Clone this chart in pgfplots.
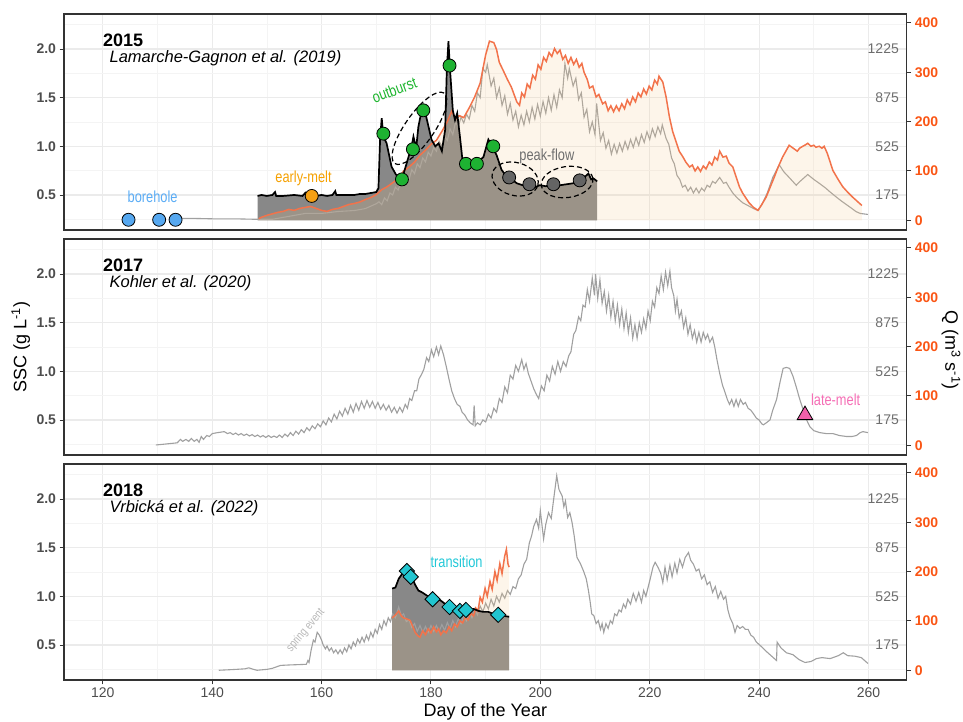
\documentclass[border=0pt]{standalone}
\usepackage{fontspec}
\setmainfont{Liberation Sans}
\newfontfamily\condfont[FakeStretch=0.8]{Liberation Sans}
\usepackage{pgfplots}
\usepackage{pgfplotstable}
\pgfplotsset{compat=1.18}
\usetikzlibrary{shapes.geometric}

\definecolor{frame}{RGB}{51,51,51}
\definecolor{gridmaj}{RGB}{235,235,235}
\definecolor{gridmin}{RGB}{244,244,244}
\definecolor{ticklab}{RGB}{77,77,77}
\definecolor{graylab}{RGB}{110,110,110}
\definecolor{qtick}{RGB}{250,85,20}
\definecolor{orangeL}{RGB}{242,115,75}
\definecolor{grayL}{RGB}{160,160,160}
\definecolor{darkfill}{RGB}{136,136,136}
\definecolor{beige}{RGB}{244,199,138}
\definecolor{blueM}{RGB}{86,168,240}
\definecolor{orangeM}{RGB}{245,160,20}
\definecolor{greenM}{RGB}{30,178,50}
\definecolor{grayM}{RGB}{100,100,100}
\definecolor{pinkM}{RGB}{240,96,170}
\definecolor{cyanM}{RGB}{34,197,208}
\definecolor{blueT}{RGB}{90,172,245}
\definecolor{orangeT}{RGB}{245,160,0}
\definecolor{greenT}{RGB}{29,181,46}
\definecolor{grayT}{RGB}{110,110,110}
\definecolor{cyanT}{RGB}{34,200,216}
\definecolor{pinkT}{RGB}{245,110,181}
\definecolor{springT}{RGB}{184,184,184}

% ---------------- 2015 ----------------
\pgfplotstableread[row sep=\\]{
d s\\
148.3 0.24\\ 148.3 0.49\\ 149 0.50\\ 150 0.49\\ 151 0.50\\ 151.5 0.53\\ 151.7 0.49\\ 153 0.49\\
155 0.50\\ 156.5 0.49\\ 157 0.52\\ 157.2 0.49\\ 159 0.49\\ 160 0.50\\ 161 0.49\\ 162 0.50\\
162.5 0.54\\ 162.7 0.50\\ 164 0.50\\ 166 0.50\\ 167 0.51\\ 168 0.51\\ 169 0.52\\ 170 0.53\\
170.4 0.57\\ 170.7 1.07\\ 171.0 1.29\\ 171.3 1.10\\ 171.9 1.03\\ 172.8 0.79\\ 173.6 0.71\\
174.4 0.67\\ 175.0 0.72\\ 175.9 0.89\\ 176.5 1.01\\ 176.8 1.10\\ 177.3 0.98\\ 177.7 1.20\\
178.3 1.37\\ 178.9 1.36\\ 179.4 1.24\\ 180.1 1.07\\ 180.8 1.00\\ 181.4 1.03\\ 182.0 0.95\\
182.6 1.17\\ 182.9 1.78\\ 183.2 2.08\\ 183.5 1.78\\ 184.0 1.37\\ 184.4 1.27\\ 184.8 1.34\\
185.3 1.10\\ 185.8 0.84\\ 187.1 0.81\\ 188.4 0.83\\ 189.6 0.89\\ 190.5 1.07\\ 191.1 1.01\\
192.0 0.91\\ 192.9 0.76\\ 193.8 0.69\\ 194.8 0.66\\ 195.7 0.62\\ 196.8 0.60\\ 197.8 0.59\\
199.0 0.58\\ 199.9 0.60\\ 201.0 0.59\\ 201.8 0.60\\ 202.7 0.60\\ 203.6 0.60\\ 204.8 0.61\\
206.0 0.62\\ 207.2 0.65\\ 208.0 0.68\\ 208.8 0.72\\ 209.3 0.66\\ 209.7 0.67\\ 210.4 0.64\\
210.4 0.24\\
}\sscA

\pgfplotstableread[row sep=\\]{
d q\\
148.3 0\\ 148.5 3\\ 149 6\\ 150 10\\ 151 13\\ 152 16\\ 153 18\\ 154 22\\ 155 20\\ 156 24\\
157 26\\ 158 28\\ 159 24\\ 160 20\\ 161 18\\ 162 22\\ 163 24\\ 164 28\\ 165 32\\ 166 34\\
167 37\\ 168 42\\ 169 46\\ 170 52\\ 171 62\\ 172 68\\ 173 76\\ 174 84\\ 175 100\\ 176 108\\
177 118\\ 178 132\\ 179 142\\ 180 154\\ 181 162\\ 182 180\\ 183 200\\ 183.8 221\\ 184.5 205\\
185.2 212\\ 186 208\\ 187 228\\ 188 250\\ 189 278\\ 190 335\\ 190.7 363\\ 191.5 360\\ 192 346\\
192.5 320\\ 193.2 304\\ 194 285\\ 194.7 270\\ 195.2 255\\ 195.7 240\\ 196.2 233\\ 196.6 258\\
197.1 250\\ 197.6 276\\ 198.1 268\\ 198.6 294\\ 199.1 286\\ 199.6 315\\ 200.1 306\\ 200.6 330\\
201.1 322\\ 201.6 340\\ 202.1 332\\ 202.6 348\\ 203.1 338\\ 203.6 345\\ 204.1 326\\ 204.6 334\\
205.1 318\\ 205.6 330\\ 206.1 316\\ 206.6 326\\ 207.1 310\\ 207.6 318\\ 208 300\\ 208.6 285\\
209 268\\ 209.6 272\\ 210.2 250\\ 210.7 255\\ 211.4 236\\ 211.9 240\\ 212.4 222\\ 212.9 232\\
213.4 220\\ 213.9 232\\ 214.4 222\\ 214.9 236\\ 215.4 226\\ 215.9 244\\ 216.4 234\\ 216.9 250\\
217.4 240\\ 217.9 258\\ 218.4 250\\ 218.9 266\\ 219.4 256\\ 219.9 272\\ 220.4 264\\ 220.9 284\\
221.4 276\\ 221.7 292\\ 222.4 280\\ 223 250\\ 223.6 210\\ 224.2 180\\ 224.8 160\\ 225.4 140\\
226.1 128\\ 226.6 118\\ 227.3 108\\ 227.8 112\\ 228.3 100\\ 228.8 108\\ 229.3 99\\ 229.8 110\\
230.3 104\\ 230.9 118\\ 231.4 112\\ 231.9 128\\ 232.4 122\\ 232.8 140\\ 233.4 128\\ 234 130\\
234.5 116\\ 235.2 108\\ 235.8 88\\ 236.4 68\\ 237 55\\ 237.6 45\\ 238.2 35\\ 239 26\\ 239.8 20\\
240.5 32\\ 241.3 47\\ 242 66\\ 242.8 88\\ 243.5 108\\ 244.3 128\\ 245 142\\ 245.5 152\\ 246 148\\
246.5 144\\ 247 140\\ 247.4 146\\ 248 150\\ 248.5 153\\ 248.9 156\\ 249.5 150\\ 250 152\\
250.4 148\\ 251 150\\ 251.5 146\\ 251.9 150\\ 252.5 135\\ 253.5 101\\ 254.5 82\\ 255.3 68\\
256.2 57\\ 257.1 47\\ 258 38\\ 258.8 30\\ 258.8 0\\
}\qA

\pgfplotstableread[row sep=\\]{
d s\\
133.5 0.26\\ 136 0.26\\ 140 0.255\\ 144 0.255\\ 148 0.25\\ 151 0.25\\ 154 0.28\\ 157 0.31\\
160 0.31\\ 163 0.33\\ 166 0.34\\ 168 0.36\\ 170 0.41\\ 170.5 0.43\\ 171 0.40\\ 171.5 0.47\\
172 0.44\\ 172.5 0.52\\ 173 0.50\\ 173.5 0.58\\ 174 0.55\\ 174.5 0.63\\ 175 0.60\\ 175.5 0.70\\
176 0.66\\ 176.5 0.76\\ 177 0.72\\ 177.5 0.82\\ 178 0.78\\ 178.5 0.88\\ 179 0.84\\ 179.5 0.94\\
180 0.90\\ 180.5 0.99\\ 181 0.95\\ 181.5 1.05\\ 182 1.00\\ 182.5 1.10\\ 183 1.06\\ 183.5 1.18\\
184 1.12\\ 184.5 1.25\\ 185 1.20\\ 185.5 1.30\\ 186 1.24\\ 186.5 1.33\\ 187 1.28\\ 187.5 1.42\\
188 1.36\\ 188.5 1.55\\ 189 1.50\\ 189.5 1.80\\ 190 1.76\\ 190.3 1.84\\ 191 1.62\\ 191.5 1.70\\
192 1.50\\ 192.5 1.60\\ 193 1.42\\ 193.5 1.52\\ 194 1.33\\ 194.5 1.44\\ 195 1.27\\ 195.5 1.36\\
196 1.20\\ 196.5 1.32\\ 197 1.22\\ 197.5 1.36\\ 198 1.25\\ 198.5 1.40\\ 199 1.28\\ 199.5 1.43\\
200 1.31\\ 200.5 1.46\\ 201 1.34\\ 201.5 1.50\\ 202 1.37\\ 202.5 1.53\\ 203 1.40\\ 203.5 1.58\\
204 1.50\\ 204.5 1.85\\ 205 1.70\\ 205.3 1.80\\ 206 1.62\\ 206.5 1.70\\ 207 1.48\\ 207.5 1.55\\
208 1.30\\ 208.5 1.38\\ 209 1.15\\ 209.5 1.25\\ 210 1.12\\ 210.3 1.44\\ 211 1.06\\ 211.5 1.14\\
212 0.98\\ 212.5 1.06\\ 213 0.92\\ 213.5 1.02\\ 214 0.93\\ 214.5 1.03\\ 215 0.95\\ 215.5 1.05\\
216 0.97\\ 216.5 1.07\\ 217 0.99\\ 217.5 1.09\\ 218 1.01\\ 218.5 1.12\\ 219 1.04\\ 219.5 1.15\\
220 1.07\\ 220.5 1.18\\ 221 1.10\\ 221.5 1.20\\ 222 1.13\\ 222.3 1.22\\ 223 1.08\\ 223.5 1.02\\
224 0.88\\ 224.5 0.82\\ 225 0.70\\ 225.5 0.66\\ 226 0.58\\ 226.5 0.60\\ 227 0.54\\ 227.5 0.58\\
228 0.52\\ 228.5 0.57\\ 229 0.52\\ 229.5 0.57\\ 230 0.54\\ 230.5 0.60\\ 231 0.58\\ 231.5 0.64\\
232 0.62\\ 232.8 0.68\\ 233.5 0.62\\ 234 0.63\\ 234.5 0.58\\ 235.2 0.52\\ 236 0.47\\ 237 0.42\\
238 0.39\\ 239 0.36\\ 239.8 0.34\\ 240.5 0.40\\ 241.5 0.52\\ 242.5 0.68\\ 243.7 0.81\\ 244.5 0.74\\
245.5 0.68\\ 246.8 0.60\\ 247.5 0.64\\ 248.9 0.71\\ 250 0.66\\ 251 0.62\\ 252.2 0.57\\ 253 0.53\\
254.1 0.48\\ 255 0.44\\ 256 0.40\\ 257 0.36\\ 257.7 0.33\\ 258.5 0.31\\ 259.9 0.30\\
}\grayA

% ---------------- 2017 ----------------
\pgfplotstableread[row sep=\\]{
d s\\
129.7 0.243\\ 131 0.25\\ 133.6 0.265\\ 134.2 0.30\\ 134.6 0.28\\ 135.2 0.30\\ 135.7 0.28\\
136.2 0.31\\ 136.7 0.28\\ 137.2 0.30\\ 137.6 0.27\\ 138.0 0.33\\ 138.4 0.30\\ 139.0 0.34\\
139.5 0.33\\ 140.0 0.36\\ 141.0 0.37\\ 142.2 0.38\\ 142.8 0.36\\ 143.3 0.37\\ 143.8 0.35\\
144.3 0.365\\ 144.8 0.345\\ 145.3 0.36\\ 145.8 0.34\\ 146.3 0.355\\ 146.8 0.335\\ 147.3 0.35\\
147.8 0.33\\ 148.3 0.345\\ 148.8 0.325\\ 149.3 0.34\\ 149.8 0.32\\ 150.3 0.34\\ 150.8 0.32\\
151.3 0.335\\ 151.8 0.32\\ 152.3 0.345\\ 152.8 0.32\\ 153.3 0.355\\ 153.8 0.33\\ 154.3 0.37\\
154.8 0.34\\ 155.3 0.385\\ 155.8 0.355\\ 156.3 0.40\\ 156.8 0.37\\ 157.3 0.42\\ 157.8 0.39\\
158.3 0.44\\ 158.8 0.41\\ 159.3 0.46\\ 159.8 0.43\\ 160.3 0.49\\ 160.8 0.45\\ 161.3 0.52\\
161.8 0.48\\ 162.3 0.56\\ 162.8 0.51\\ 163.3 0.59\\ 163.8 0.54\\ 164.3 0.62\\ 164.8 0.56\\
165.3 0.65\\ 165.8 0.58\\ 166.3 0.67\\ 166.8 0.60\\ 167.3 0.69\\ 167.8 0.62\\ 168.3 0.70\\
168.8 0.63\\ 169.3 0.69\\ 169.8 0.62\\ 170.3 0.68\\ 170.8 0.61\\ 171.3 0.66\\ 171.8 0.60\\
172.3 0.65\\ 172.8 0.58\\ 173.3 0.63\\ 173.8 0.57\\ 174.3 0.63\\ 174.8 0.58\\ 175.3 0.66\\
175.7 0.62\\ 176.1 0.72\\ 176.5 0.70\\ 177.0 0.80\\ 177.4 0.80\\ 177.8 0.92\\ 178.3 0.97\\
178.7 1.02\\ 179.2 1.14\\ 179.6 1.10\\ 180.1 1.22\\ 180.5 1.15\\ 181.0 1.25\\ 181.4 1.17\\
181.8 1.26\\ 182.3 1.17\\ 182.8 1.05\\ 183.3 0.92\\ 183.8 0.80\\ 184.3 0.72\\ 184.8 0.66\\
185.3 0.64\\ 185.7 0.58\\ 186.2 0.55\\ 186.7 0.50\\ 187.2 0.47\\ 187.7 0.45\\ 187.9 0.65\\
188.1 0.44\\ 188.5 0.47\\ 189.0 0.45\\ 189.5 0.50\\ 190.0 0.48\\ 190.5 0.56\\ 191.0 0.52\\
191.5 0.62\\ 192.0 0.58\\ 192.5 0.72\\ 193.0 0.68\\ 193.5 0.84\\ 194.0 0.78\\ 194.5 0.96\\
195.0 0.92\\ 195.5 1.06\\ 196.0 1.00\\ 196.6 1.12\\ 197.0 1.02\\ 197.4 1.08\\ 197.8 0.98\\
198.3 0.90\\ 198.8 0.82\\ 199.3 0.76\\ 199.7 0.72\\ 200.2 0.85\\ 200.7 0.80\\ 201.2 0.96\\
201.7 0.90\\ 202.2 1.05\\ 202.7 0.97\\ 203.2 1.10\\ 203.7 1.00\\ 204.2 1.10\\ 204.7 1.05\\
205.2 1.16\\ 205.6 1.20\\ 206.1 1.38\\ 206.5 1.42\\ 207.0 1.56\\ 207.4 1.52\\ 207.8 1.68\\
208.2 1.66\\ 208.6 1.84\\ 209.0 1.72\\ 209.5 1.96\\ 209.9 1.78\\ 210.1 2.00\\ 210.5 1.75\\
210.9 1.94\\ 211.3 1.70\\ 211.7 1.82\\ 212.1 1.62\\ 212.5 1.78\\ 212.9 1.56\\ 213.3 1.72\\
213.7 1.52\\ 214.1 1.68\\ 214.5 1.48\\ 214.9 1.64\\ 215.3 1.44\\ 215.7 1.60\\ 216.1 1.40\\
216.5 1.55\\ 216.9 1.34\\ 217.3 1.48\\ 217.7 1.34\\ 218.1 1.50\\ 218.5 1.40\\ 218.9 1.54\\
219.3 1.44\\ 219.7 1.62\\ 220.1 1.52\\ 220.5 1.72\\ 220.9 1.66\\ 221.3 1.86\\ 221.7 1.80\\
222.1 1.98\\ 222.5 1.84\\ 222.9 2.02\\ 223.3 1.88\\ 223.7 2.03\\ 224.0 1.86\\ 224.4 1.78\\
224.7 1.62\\ 225.0 1.74\\ 225.4 1.55\\ 225.8 1.62\\ 226.2 1.45\\ 226.6 1.55\\ 227.0 1.38\\
227.4 1.48\\ 227.8 1.34\\ 228.2 1.42\\ 228.6 1.30\\ 229.0 1.40\\ 229.4 1.30\\ 229.8 1.40\\
230.2 1.33\\ 230.6 1.38\\ 231.0 1.30\\ 231.5 1.35\\ 231.9 1.25\\ 232.3 1.12\\ 232.8 0.98\\
233.3 0.86\\ 233.8 0.78\\ 234.2 0.71\\ 234.6 0.66\\ 235.0 0.71\\ 235.4 0.64\\ 235.8 0.71\\
236.2 0.64\\ 236.6 0.71\\ 237.1 0.66\\ 237.5 0.68\\ 238.0 0.62\\ 238.5 0.60\\ 238.9 0.57\\
239.5 0.52\\ 240.0 0.50\\ 240.5 0.46\\ 240.8 0.45\\ 241.3 0.47\\ 242.0 0.50\\ 242.5 0.60\\
243.2 0.71\\ 243.8 0.88\\ 244.4 1.03\\ 245.0 1.04\\ 245.6 1.03\\ 246.2 0.95\\ 246.8 0.84\\
247.4 0.72\\ 248.1 0.60\\ 248.7 0.50\\ 249.3 0.43\\ 250.0 0.39\\ 251.1 0.37\\ 252.3 0.36\\
253.5 0.36\\ 254.7 0.34\\ 256.0 0.33\\ 257.0 0.33\\ 257.8 0.34\\ 258.5 0.37\\ 259.0 0.38\\
259.9 0.37\\
}\grayB

% ---------------- 2018 ----------------
\pgfplotstableread[row sep=\\]{
d s\\
172.9 0.24\\ 172.9 1.08\\ 173.5 1.09\\ 174.1 1.18\\ 174.6 1.22\\ 175.0 1.26\\ 175.6 1.30\\
176.0 1.27\\ 176.5 1.20\\ 177.1 1.12\\ 177.7 1.06\\ 178.4 1.04\\ 179.2 1.01\\ 179.8 0.99\\
180.5 0.97\\ 181.1 0.97\\ 181.7 0.96\\ 182.4 0.93\\ 183.2 0.90\\ 184.0 0.90\\ 184.7 0.89\\
185.4 0.87\\ 186.2 0.85\\ 187.0 0.86\\ 187.8 0.87\\ 188.7 0.85\\ 189.6 0.84\\ 190.5 0.84\\
191.4 0.82\\ 192.3 0.81\\ 193.2 0.80\\ 194.3 0.79\\ 194.3 0.24\\
}\sscC

\pgfplotstableread[row sep=\\]{
d q\\
172.9 0\\ 172.9 106\\ 173.5 112\\ 174.1 120\\ 174.6 110\\ 175.0 106\\ 175.6 104\\ 176.2 101\\
176.7 88\\ 177.1 77\\ 177.6 70\\ 178.0 67\\ 178.5 80\\ 179.0 72\\ 179.5 84\\ 180.0 76\\
180.5 88\\ 181.0 78\\ 181.4 84\\ 181.8 72\\ 182.3 80\\ 182.8 76\\ 183.3 88\\ 183.8 80\\
184.3 94\\ 184.8 88\\ 185.3 100\\ 185.8 96\\ 186.3 108\\ 186.8 102\\ 187.3 116\\ 187.8 110\\
188.2 126\\ 188.6 120\\ 189.0 148\\ 189.4 138\\ 189.9 166\\ 190.3 150\\ 190.8 180\\ 191.2 164\\
191.7 200\\ 192.1 182\\ 192.6 216\\ 193.0 196\\ 193.5 232\\ 193.8 245\\ 194.1 215\\ 194.3 209\\
194.3 0\\
}\qC

\pgfplotstableread[row sep=\\]{
d s\\
141.2 0.24\\ 143 0.245\\ 144.6 0.25\\ 146 0.255\\ 146.7 0.265\\ 147.5 0.25\\ 148.2 0.24\\
150.1 0.25\\ 151 0.26\\ 152.5 0.29\\ 154.3 0.295\\ 156.7 0.30\\ 157.2 0.30\\ 157.5 0.34\\
157.7 0.32\\ 158.1 0.45\\ 158.5 0.55\\ 158.8 0.53\\ 159.2 0.63\\ 159.6 0.60\\ 160.0 0.55\\
160.3 0.50\\ 160.7 0.46\\ 161.0 0.49\\ 161.4 0.44\\ 161.8 0.47\\ 162.2 0.42\\ 162.6 0.45\\
163.0 0.41\\ 163.4 0.45\\ 163.8 0.41\\ 164.2 0.47\\ 164.6 0.43\\ 165.0 0.50\\ 165.4 0.46\\
165.8 0.53\\ 166.2 0.49\\ 166.6 0.56\\ 167.0 0.52\\ 167.4 0.58\\ 167.8 0.53\\ 168.2 0.60\\
168.6 0.55\\ 169.0 0.63\\ 169.4 0.58\\ 169.8 0.66\\ 170.2 0.62\\ 170.6 0.71\\ 171.0 0.66\\
171.4 0.75\\ 171.8 0.70\\ 172.2 0.78\\ 172.6 0.74\\ 173.0 0.82\\ 173.5 0.78\\ 174.1 0.89\\
174.6 0.80\\ 175.0 0.82\\ 175.5 0.74\\ 176.0 0.76\\ 176.5 0.68\\ 177.0 0.72\\ 177.5 0.64\\
178.0 0.70\\ 178.5 0.63\\ 179.0 0.69\\ 179.5 0.63\\ 180.0 0.70\\ 180.5 0.64\\ 181.0 0.70\\
181.5 0.64\\ 182.0 0.71\\ 182.5 0.65\\ 183.0 0.73\\ 183.5 0.67\\ 184.0 0.75\\ 184.5 0.69\\
185.0 0.77\\ 185.5 0.72\\ 186.0 0.80\\ 186.5 0.75\\ 187.0 0.84\\ 187.5 0.78\\ 188.0 0.87\\
188.5 0.81\\ 189.0 0.90\\ 189.5 0.84\\ 190.0 0.93\\ 190.5 0.87\\ 191.0 0.97\\ 191.5 0.90\\
192.0 1.00\\ 192.5 0.94\\ 193.0 1.03\\ 193.5 0.98\\ 194.0 1.06\\ 194.5 1.02\\ 195.0 1.10\\
195.5 1.08\\ 196.0 1.18\\ 196.5 1.22\\ 197.0 1.33\\ 197.5 1.38\\ 198.0 1.55\\ 198.4 1.62\\
198.8 1.72\\ 199.3 1.79\\ 199.7 1.70\\ 200.0 1.88\\ 200.6 1.59\\ 201.0 1.74\\ 201.5 1.86\\
202.0 1.80\\ 202.4 1.98\\ 203.0 2.24\\ 203.4 2.10\\ 204.0 2.03\\ 204.3 1.92\\ 204.6 1.98\\
205.0 1.81\\ 205.4 1.86\\ 205.8 1.76\\ 206.2 1.62\\ 206.7 1.40\\ 207.3 1.34\\ 207.9 1.26\\
208.4 1.18\\ 208.8 1.06\\ 209.1 0.95\\ 209.4 0.82\\ 209.8 0.80\\ 210.2 0.72\\ 210.6 0.75\\
211.0 0.66\\ 211.3 0.72\\ 211.6 0.63\\ 212.0 0.72\\ 212.4 0.67\\ 212.8 0.75\\ 213.2 0.72\\
213.6 0.82\\ 214.0 0.80\\ 214.4 0.86\\ 214.8 0.84\\ 215.2 0.92\\ 215.6 0.88\\ 216.0 0.97\\
216.5 0.92\\ 217.0 1.03\\ 217.5 0.95\\ 218.0 1.04\\ 218.5 0.94\\ 218.9 1.06\\ 219.3 1.00\\
220.1 1.18\\ 220.6 1.30\\ 221.0 1.35\\ 221.5 1.30\\ 222.0 1.24\\ 222.4 1.14\\ 222.8 1.30\\
223.2 1.17\\ 223.7 1.32\\ 224.1 1.20\\ 224.6 1.34\\ 225.0 1.24\\ 225.5 1.38\\ 226.0 1.30\\
226.5 1.40\\ 227.1 1.45\\ 227.5 1.37\\ 228.0 1.33\\ 228.5 1.26\\ 229.0 1.28\\ 229.5 1.18\\
230.0 1.22\\ 230.5 1.12\\ 231.0 1.15\\ 231.5 1.04\\ 232.0 1.10\\ 232.5 0.98\\ 233.0 1.05\\
233.5 0.97\\ 233.9 1.00\\ 234.3 0.86\\ 234.7 0.78\\ 235.2 0.72\\ 235.6 0.63\\ 236.0 0.70\\
236.5 0.67\\ 237.0 0.69\\ 237.5 0.66\\ 238.0 0.66\\ 238.5 0.60\\ 239.0 0.58\\ 239.5 0.53\\
240.5 0.48\\ 241.4 0.43\\ 242.4 0.38\\ 243.2 0.34\\ 243.3 0.53\\ 244.0 0.47\\ 245.0 0.42\\
246.2 0.40\\ 247.3 0.35\\ 248.4 0.32\\ 249.5 0.33\\ 250.5 0.36\\ 251.5 0.37\\ 253.0 0.36\\
254.5 0.39\\ 255.4 0.42\\ 256.2 0.39\\ 257.5 0.385\\ 258.7 0.37\\ 259.9 0.31\\
}\grayC

\pgfplotsset{
  panel/.style={
    scale only axis, width=842.7pt, height=216pt,
    xmin=112.9, xmax=267.0, ymin=0.14, ymax=2.36,
    xtick={120,140,...,260}, minor xtick={130,150,...,250},
    ytick={0.5,1.0,1.5,2.0}, minor ytick={0.25,0.75,...,2.25},
    grid=both,
    major grid style={line width=1.1pt, draw=gridmaj},
    minor grid style={line width=0.6pt, draw=gridmin},
    axis line style={line width=1.4pt, draw=frame},
    tick align=outside, ytick pos=left, xtick pos=bottom,
    major tick length=4.5pt, minor tick length=0pt,
    tick style={line width=0.9pt, draw=frame},
    yticklabel style={font=\fontsize{14}{14}\selectfont\bfseries, text=ticklab,
      /pgf/number format/fixed, /pgf/number format/fixed zerofill,
      /pgf/number format/precision=1, /pgf/number format/assume math mode=true},
    xticklabel style={font=\fontsize{14}{14}\selectfont, text=ticklab,
      /pgf/number format/assume math mode=true},
  },
  qaxis/.style={
    scale only axis, width=842.7pt, height=216pt,
    xmin=112.9, xmax=267.0, ymin=-19.7, ymax=418.1,
    axis y line*=right, axis x line=none,
    ytick={0,100,...,400}, tick align=outside, major tick length=4.5pt,
    tick style={line width=0.9pt, draw=frame},
    axis line style={line width=1.4pt, draw=frame},
    yticklabel style={font=\fontsize{14}{14}\selectfont\bfseries, text=qtick,
      /pgf/number format/assume math mode=true},
  },
  qline/.style={orangeL, line width=1.5pt, restrict y to domain=0.245:5},
  qfill/.style={fill=beige, fill opacity=0.18, draw=none},
  sscline/.style={black, line width=1.7pt, restrict y to domain=0.245:5},
  gline/.style={grayL, line width=1.1pt},
  dot/.style={only marks, mark=*, mark size=6.5pt, mark options={fill=#1, draw=black, line width=0.8pt}},
}

\tikzset{
  ann/.style={font=\condfont\fontsize{16}{16}\selectfont, text=#1, inner sep=0pt},
  loop/.style={draw=black, dash pattern=on 5pt off 3pt, line width=1.2pt, ellipse, inner sep=0pt},
  yr/.style={anchor=base west, inner sep=0pt, font=\fontsize{18}{18}\selectfont\bfseries},
  src/.style={anchor=base west, inner sep=0pt, font=\fontsize{16.5}{16.5}\selectfont\itshape},
  qlab/.style={anchor=east, inner sep=0pt, text=graylab, font=\fontsize{14}{14}\selectfont},
}

\newcommand{\graylabels}{%
  \node[qlab] at (axis cs:265.6,2.0) {1225};
  \node[qlab] at (axis cs:265.6,1.5) {875};
  \node[qlab] at (axis cs:265.6,1.0) {525};
  \node[qlab] at (axis cs:265.6,0.5) {175};
}

\begin{document}
\begin{tikzpicture}
\useasboundingbox (0pt,0pt) rectangle (963pt,722pt);

% ---- 2015 ----
\begin{axis}[panel, at={(64pt,492pt)}, xticklabels={}, xtick style={draw=none}]
  \addplot[fill=darkfill, draw=none] table[x=d, y=s] {\sscA};
  \addplot[gline] table[x=d, y=s] {\grayA};
  \addplot[qfill] table[x=d, y expr=\thisrow{q}/197.2+0.24] {\qA};
  \addplot[qline] table[x=d, y expr=\thisrow{q}/197.2+0.24] {\qA};
  \addplot[sscline] table[x=d, y=s] {\sscA};
  \node[loop, minimum width=86pt, minimum height=29pt, rotate=55] at (axis cs:177.9,1.185) {};
  \node[loop, minimum width=47pt, minimum height=33pt, rotate=-15] at (axis cs:195.4,0.664) {};
  \node[loop, minimum width=52pt, minimum height=31pt, rotate=8] at (axis cs:204.9,0.633) {};
  \addplot[dot=blueM] coordinates {(124.7,0.245) (130.3,0.245) (133.3,0.245)};
  \addplot[dot=orangeM] coordinates {(158.2,0.49)};
  \addplot[dot=greenM] coordinates {(171.3,1.13) (174.7,0.66) (176.7,0.97) (178.6,1.37)
    (183.4,1.83) (186.4,0.82) (188.4,0.82) (191.4,1.00)};
  \addplot[dot=grayM] coordinates {(194.3,0.68) (198.0,0.61) (202.4,0.61) (207.2,0.65)};
  \node[ann=blueT] at (axis cs:129.1,0.48) {borehole};
  \node[ann=orangeT] at (axis cs:156.7,0.67) {early-melt};
  \node[ann=greenT, rotate=20] at (axis cs:173.3,1.58) {outburst};
  \node[ann=grayT] at (axis cs:201.2,0.90) {peak-flow};
  \node[yr] at (axis cs:120,2.03) {2015};
  \node[src] at (axis cs:121.2,1.866) {Lamarche-Gagnon et al. (2019)};
  \graylabels
\end{axis}
\begin{axis}[qaxis, at={(64pt,492pt)}]
\end{axis}

% ---- 2017 ----
\begin{axis}[panel, at={(64pt,267pt)}, xticklabels={}, xtick style={draw=none}]
  \addplot[gline] table[x=d, y=s] {\grayB};
  \addplot[only marks, mark=triangle*, mark size=9pt,
    mark options={fill=pinkM, draw=black, line width=0.8pt}] coordinates {(248.4,0.55)};
  \node[ann=pinkT] at (axis cs:254.0,0.71) {late-melt};
  \node[yr] at (axis cs:120,2.03) {2017};
  \node[src] at (axis cs:121.2,1.866) {Kohler et al. (2020)};
  \graylabels
\end{axis}
\begin{axis}[qaxis, at={(64pt,267pt)}]
\end{axis}

% ---- 2018 ----
\begin{axis}[panel, at={(64pt,42pt)}]
  \addplot[fill=darkfill, draw=none] table[x=d, y=s] {\sscC};
  \addplot[gline] table[x=d, y=s] {\grayC};
  \addplot[qfill] table[x=d, y expr=\thisrow{q}/197.2+0.24] {\qC};
  \addplot[qline] table[x=d, y expr=\thisrow{q}/197.2+0.24] {\qC};
  \addplot[sscline] table[x=d, y=s] {\sscC};
  \addplot[only marks, mark=square*, mark size=5.4pt,
    mark options={rotate=45, fill=cyanM, draw=black, line width=0.8pt}]
    coordinates {(175.6,1.26) (176.3,1.20) (180.3,0.97) (183.4,0.89) (185.3,0.85)
      (186.4,0.86) (192.3,0.81)};
  \node[ann=cyanT] at (axis cs:184.7,1.35) {transition};
  \node[font=\condfont\fontsize{12}{12}\selectfont, text=springT, rotate=50, inner sep=0pt]
    at (axis cs:157.1,0.65) {spring event};
  \node[yr] at (axis cs:120,2.03) {2018};
  \node[src] at (axis cs:121.2,1.866) {Vrbická et al. (2022)};
  \graylabels
\end{axis}
\begin{axis}[qaxis, at={(64pt,42pt)}]
\end{axis}

% axis titles
\node[rotate=90, font=\fontsize{18}{18}\selectfont] at (20.8pt,375pt) {SSC (g L\textsuperscript{-1})};
\node[rotate=-90, font=\fontsize{18}{18}\selectfont] at (951pt,372pt) {Q (m\textsuperscript{3} s\textsuperscript{-1})};
\node[anchor=base, font=\fontsize{18}{18}\selectfont] at (485.3pt,5pt) {Day of the Year};
\end{tikzpicture}
\end{document}
